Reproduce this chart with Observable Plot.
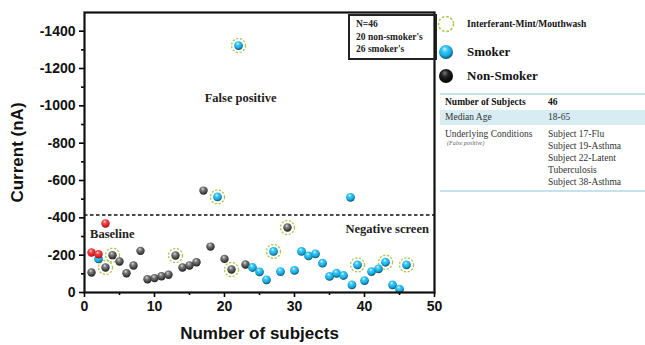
<!DOCTYPE html>
<html><head><meta charset="utf-8">
<script src="https://cdn.jsdelivr.net/npm/d3@7"></script>
<script src="https://cdn.jsdelivr.net/npm/@observablehq/plot@0.6"></script>
<style>
body{margin:0;background:#fff;}
#wrap{position:relative;width:645px;height:345px;overflow:hidden;}
#wrap svg.main{position:absolute;left:0;top:0;}
.serif{font-family:"Liberation Serif","DejaVu Serif",serif;color:#222;}
.abs{position:absolute;white-space:nowrap;}
svg.main g[aria-label="y-axis tick label"] text, svg.main g[aria-label="x-axis tick label"] text{font:bold 14px "Liberation Sans",Arial,sans-serif;fill:#111;}
svg.main g[aria-label="y-axis label"] text, svg.main g[aria-label="x-axis label"] text{font:bold 17px "Liberation Sans",Arial,sans-serif;fill:#111;}
</style></head>
<body><div id="wrap"></div>
<script>
// Non-smokers (grey)
const greyX = [1,3,4,5,6,7,8,9,10,11,12,13,14,15,16,17,18,20,21,23,29];
const greyY = [-107,-134,-200,-166,-103,-145,-223,-71,-77,-87,-95,-198,-134,-145,-162,-546,-246,-180,-123,-150,-348];
// Smokers (blue)
const blueX = [2,19,22,24,25,26,27,28,30,31,32,33,34,35,36,37,38,38.2,39,40,41,42,43,44,45,46];
const blueY = [-180,-512,-1323,-134,-111,-68,-220,-112,-118,-220,-196,-207,-157,-86,-103,-91,-510,-41,-148,-64,-112,-127,-162,-41,-18,-148];
// Baseline (red)
const redX = [1,2,3];
const redY = [-214,-205,-370];
// Interferant-Mint/Mouthwash rings
const ringX = [3,4,13,19,21,22,27,29,39,43,46];
const ringY = [-134,-200,-198,-512,-123,-1323,-220,-348,-148,-162,-148];
const threshold = [-415];
const yTicks = [0,-200,-400,-600,-800,-1000,-1200,-1400];
const yMinor = [-100,-300,-500,-700,-900,-1100,-1300];
const xTicks = [0,10,20,30,40,50];
const xMinor = [5,15,25,35,45];
const notes = [
  {x:22.3, y:-1040, text:"False positive", anchor:"middle"},
  {x:0.8, y:-316, text:"Baseline", anchor:"start"},
  {x:49.2, y:-341, text:"Negative screen", anchor:"end"}
];
const infoLines = ["N=46","20 non-smoker's","26 smoker's"];
const legendItems = ["Interferant-Mint/Mouthwash","Smoker","Non-Smoker"];
const tableRows = [
  ["Number of Subjects","46"],
  ["Median Age","18-65"],
  ["Underlying Conditions",["Subject 17-Flu","Subject 19-Asthma","Subject 22-Latent","Tuberculosis","Subject 38-Asthma"]]
];
const tableNote = "(False positive)";

const zip = (xs, ys) => xs.map((x,i)=>({x, y: ys[i]}));
const grey = zip(greyX, greyY), blue = zip(blueX, blueY), red = zip(redX, redY), rings = zip(ringX, ringY);
const noteMark = a => Plot.text(notes.filter(d => d.anchor === a), {x: "x", y: "y", text: "text", textAnchor: a, fontFamily: "Liberation Serif, serif", fontWeight: "bold", fontSize: 12.5, fill: "#222"});

const svg = Plot.plot({
  width: 645, height: 345,
  marginLeft: 84, marginRight: 211, marginTop: 12, marginBottom: 53,
  style: {background: "transparent", overflow: "visible"},
  x: {domain: [0,50]},
  y: {domain: [0,-1500]},
  marks: [
    Plot.axisY(yMinor, {tickSize: 3, strokeWidth: 1.6, text: null, label: null}),
    Plot.axisX(xMinor, {tickSize: 3, strokeWidth: 1.6, text: null, label: null}),
    Plot.axisY(yTicks, {tickSize: 5, strokeWidth: 1.6, tickPadding: 4, tickFormat: d => String(d), label: "Current (nA)", labelAnchor: "center", labelArrow: "none", labelOffset: 74}),
    Plot.axisX(xTicks, {tickSize: 5, strokeWidth: 1.6, tickPadding: 4, tickFormat: d => String(d), label: "Number of subjects", labelAnchor: "center", labelArrow: "none", labelOffset: 46}),
    Plot.ruleY(threshold, {stroke: "#111", strokeWidth: 1.6, strokeDasharray: "3.5,2.5"}),
    Plot.dot(rings, {x: "x", y: "y", r: 7, stroke: "#a9c84e", strokeWidth: 1.3, strokeDasharray: "2.2,1.6", fill: "none"}),
    Plot.dot(grey, {x: "x", y: "y", r: 4.2, fill: "url(#gGrey)", stroke: "none"}),
    Plot.dot(blue, {x: "x", y: "y", r: 4.4, fill: "url(#gBlue)", stroke: "none"}),
    Plot.dot(red, {x: "x", y: "y", r: 4.2, fill: "url(#gRed)", stroke: "none"}),
    noteMark("middle"), noteMark("start"), noteMark("end"),
    Plot.frame({stroke: "#111", strokeWidth: 2.2})
  ]
});
svg.classList.add("main");
const defs = document.createElementNS("http://www.w3.org/2000/svg","defs");
defs.innerHTML = `
<radialGradient id="gBlue" cx="45%" cy="38%" r="62%" fx="40%" fy="28%">
  <stop offset="0%" stop-color="#d8f6ff"/><stop offset="30%" stop-color="#3fcaf5"/>
  <stop offset="70%" stop-color="#13a9e0"/><stop offset="100%" stop-color="#0a4a66"/></radialGradient>
<radialGradient id="gGrey" cx="45%" cy="38%" r="62%" fx="40%" fy="28%">
  <stop offset="0%" stop-color="#d9d9d9"/><stop offset="35%" stop-color="#7a7a7a"/>
  <stop offset="75%" stop-color="#444"/><stop offset="100%" stop-color="#1a1a1a"/></radialGradient>
<radialGradient id="gRed" cx="45%" cy="38%" r="62%" fx="40%" fy="28%">
  <stop offset="0%" stop-color="#ffd0d0"/><stop offset="35%" stop-color="#f24a4a"/>
  <stop offset="80%" stop-color="#d41c24"/><stop offset="100%" stop-color="#8a0a10"/></radialGradient>
<radialGradient id="gBlack" cx="45%" cy="38%" r="62%" fx="40%" fy="28%">
  <stop offset="0%" stop-color="#777"/><stop offset="40%" stop-color="#222"/>
  <stop offset="100%" stop-color="#000"/></radialGradient>`;
svg.insertBefore(defs, svg.firstChild);
const wrap = document.getElementById("wrap");
wrap.appendChild(svg);

// info box
const info = document.createElement("div");
info.className = "abs serif";
Object.assign(info.style, {left:"348px", top:"14px", width:"79px", height:"40px", border:"2px solid #222", fontSize:"9.5px", fontWeight:"bold", lineHeight:"12.5px", padding:"2px 0 0 6px", boxSizing:"content-box"});
info.innerHTML = infoLines.join("<br>");
wrap.appendChild(info);

// legend
const legTop = [24, 52, 76];
const legSize = ["9.5px","13px","13px"];
legendItems.forEach((t,i)=>{
  const s = document.createElementNS("http://www.w3.org/2000/svg","svg");
  s.setAttribute("width","20"); s.setAttribute("height","20");
  s.style.position="absolute"; s.style.left="436px"; s.style.top=(legTop[i]-10)+"px";
  s.innerHTML = i===0
    ? `<circle cx="10" cy="10" r="7.5" fill="none" stroke="#a9c84e" stroke-width="1.5" stroke-dasharray="2.6,1.8"/>`
    : `<circle cx="10" cy="10" r="7" fill="${i===1?'url(#gBlue)':'url(#gBlack)'}"/>`;
  wrap.appendChild(s);
  const d = document.createElement("div");
  d.className="abs serif";
  Object.assign(d.style,{left:"467px", top:(legTop[i]-9)+"px", height:"18px", lineHeight:"18px", fontSize:legSize[i], fontWeight:"bold", color:"#111"});
  d.textContent = t;
  wrap.appendChild(d);
});

// table
const tbl = document.createElement("div");
tbl.className = "abs serif";
Object.assign(tbl.style,{left:"440px", top:"93px", width:"205px", fontSize:"9.5px", color:"#333"});
let html = `<div style="border-top:2px solid #c3e2ec"></div>`;
html += `<div style="display:flex;height:15px;line-height:15px;font-weight:bold;color:#111"><div style="width:103px;padding-left:5px">${tableRows[0][0]}</div><div>${tableRows[0][1]}</div></div>`;
html += `<div style="display:flex;height:15px;line-height:15px;background:#d7edf3"><div style="width:103px;padding-left:5px">${tableRows[1][0]}</div><div>${tableRows[1][1]}</div></div>`;
html += `<div style="display:flex;padding-top:3px;height:62px;line-height:12px"><div style="width:103px;padding-left:5px">${tableRows[2][0]}<div style="font-size:6px;font-style:italic;line-height:7px;padding-left:2px;color:#666">${tableNote}</div></div><div>${tableRows[2][1].join("<br>")}</div></div>`;
html += `<div style="border-top:2px solid #c3e2ec"></div>`;
tbl.innerHTML = html;
wrap.appendChild(tbl);
</script></body></html>
